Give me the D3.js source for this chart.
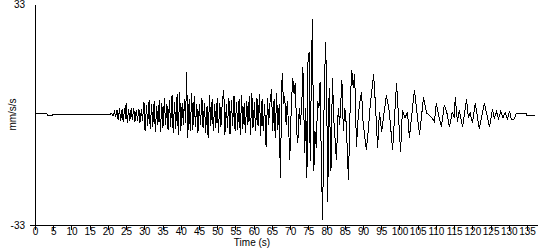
<!DOCTYPE html>
<html>
<head>
<meta charset="utf-8">
<script src="https://cdn.jsdelivr.net/npm/d3@7"></script>
<style>
  body { margin: 0; background: #fff; }
  svg { display: block; }
  text { font-family: Arial, "Liberation Sans", sans-serif; fill: #000; }
</style>
</head>
<body>
<svg id="chart" width="550" height="250"></svg>
<script>
// ground acceleration trace, [time (s), mm/s/s] turning points
const trace = [
  [0,0.15],[3.3,0.15],[3.35,-0.15],[4.9,-0.15],[4.95,0],[20.5,0],
  [21.0,0.3],[21.4,-0.4],[21.8,0.8],[22.1,-0.6],[22.5,1.2],[22.8,-1.5],[23.2,1.8],[23.5,-2.0],[23.9,1.5],[24.2,-2.2],
  [24.6,2.0],[24.8,-1.2],[25.0,3.4],[25.3,-2.5],[25.7,1.6],[26.0,-2.0],[26.4,1.9],[26.7,-1.6],[27.1,2.0],[27.4,-2.3],
  [27.8,1.4],[28.1,-1.8],[28.5,1.7],[28.8,-2.4],[29.2,1.5],[29.5,-1.9],[29.9,3.8],[30.2,-5.0],[30.6,2.9],[30.9,-3.4],
  [31.3,4.2],[31.6,-4.3],[32.0,3.0],[32.3,-3.6],[32.7,4.0],[33.0,-5.2],[33.4,2.5],[33.7,-3.0],[34.1,4.3],[34.4,-5.3],
  [34.8,3.5],[35.1,-4.0],[35.5,4.8],[35.8,-3.2],[36.2,3.0],[36.5,-4.5],[36.9,4.4],[37.2,-3.8],[37.6,5.8],[37.9,-5.4],
  [38.3,3.7],[38.6,-4.2],[39.0,6.0],[39.3,-6.0],[39.7,6.6],[40.0,-4.8],[40.4,3.5],[40.7,-3.0],[41.0,4.6],[41.3,-2.5],
  [41.6,12.7],[41.9,-7.0],[42.3,4.5],[42.6,-5.0],[43.0,6.5],[43.3,-4.6],[43.7,5.5],[44.0,-3.6],[44.4,3.2],[44.7,-5.4],
  [45.1,3.0],[45.4,-3.0],[45.8,5.0],[46.1,-4.0],[46.5,3.5],[46.8,-5.5],[47.2,2.5],[47.5,-7.0],[47.9,5.8],[48.2,-3.5],
  [48.6,4.5],[48.9,-5.0],[49.3,3.0],[49.6,-4.0],[50.0,4.8],[50.3,-5.5],[50.7,3.5],[51.0,-3.8],[51.4,4.0],[51.8,7.3],
  [52.1,-6.0],[52.5,3.0],[52.8,-4.0],[53.2,5.0],[53.5,-5.8],[53.9,4.2],[54.2,-3.5],[54.6,5.5],[54.9,-5.0],[55.3,3.8],
  [55.6,-4.5],[56.0,4.6],[56.3,-6.0],[56.7,5.9],[57.0,-4.2],[57.4,3.5],[57.7,-5.4],[58.1,4.0],[58.4,-3.0],[58.8,5.5],
  [59.1,-6.2],[59.5,6.5],[59.8,-4.0],[60.2,3.6],[60.5,-5.0],[60.9,5.0],[61.2,-3.5],[61.6,6.0],[61.9,-6.5],[62.3,4.5],
  [62.6,-5.0],[63.0,3.0],[63.4,-9.7],[63.8,5.0],[64.1,-3.0],[64.5,4.0],[64.9,7.5],[65.2,-5.0],[65.6,4.5],[65.9,-7.0],
  [66.3,6.5],[66.6,-4.5],[67.0,3.0],[67.3,-19.0],[67.8,12.5],[68.2,3.0],[68.5,5.5],[68.9,-3.0],[69.2,4.0],[69.6,-4.0],
  [69.9,-13.6],[70.3,2.0],[70.7,10.9],[71.1,6.0],[71.4,9.5],[71.8,-5.0],[72.1,-8.5],[72.5,2.0],[72.8,-3.0],[73.2,3.0],
  [73.5,14.2],[74.0,-11.5],[74.3,2.0],[74.6,-19.0],[74.9,15.7],[75.2,18.7],[75.5,-14.0],[75.8,10.0],[76.1,28.5],[76.5,-17.0],
  [76.8,-5.0],[77.2,-10.0],[77.5,4.0],[77.9,2.0],[78.2,9.7],[78.5,-10.0],[78.9,-31.5],[79.3,2.0],[79.7,21.6],[80.0,10.0],
  [80.3,-26.0],[80.7,8.0],[81.2,-17.0],[81.6,10.9],[82.0,-2.0],[82.7,-13.6],[83.2,2.0],[83.6,-3.0],[84.2,10.3],[84.6,-5.0],
  [85.0,2.0],[85.4,-3.0],[86.0,-19.5],[86.5,4.0],[86.9,13.3],[87.3,8.0],[87.7,12.0],[88.2,-9.7],[88.6,-2.0],[89.0,3.0],
  [89.6,6.7],[90.0,-2.0],[90.9,-10.6],[91.4,-5.0],[92.0,3.0],[92.9,12.1],[93.4,3.0],[94.0,-10.0],[94.5,0.7],[95.1,-5.2],
  [96.4,5.8],[97.2,1.0],[98.1,-10.6],[99.2,9.4],[100.3,-11.2],[100.8,1.3],[101.5,-1.0],[102.2,0.7],[102.7,-7.0],[104.1,7.3],
  [105.5,-6.1],[106.6,5.2],[107.4,0.5],[108.2,-0.3],[108.8,-0.8],[109.6,-2.2],[110.1,3.4],[110.6,0.5],[111.5,-3.7],[112.3,2.8],
  [113.0,0.5],[113.7,-3.7],[114.5,0.8],[115.0,-1.0],[115.3,5.2],[115.9,-2.2],[116.4,1.3],[117.3,-3.7],[118.4,4.6],[118.9,-1.0],
  [119.4,0.5],[120.0,-2.5],[120.8,3.4],[121.9,-4.3],[123.3,3.4],[124.7,-3.7],[125.5,1.6],[126.0,-1.0],[126.6,0.8],[127.2,-1.2],
  [127.8,1.0],[128.4,-1.0],[129.0,0.7],[129.6,-1.3],[130.2,1.0],[130.7,-1.6],[131.5,-1.3],[132.1,0.4],[134.8,0.4],[134.85,-0.15],
  [137.3,-0.15]
];

const xTicks = d3.range(0, 136, 5);   // 0 .. 135
const yTicks = [-33, 33];

const svg = d3.select("#chart");

var x = d3.scaleLinear().domain([0, 138]).range([35, 538]);
var y = d3.scaleLinear().domain([-33, 33]).range([225, 4]);

// x axis: ticks + labels
var xAxis = d3.axisBottom(x)
  .tickValues(xTicks)
  .tickSize(5)
  .tickPadding(-2)
  .tickFormat(d3.format("d"));

var gx = svg.append("g")
  .attr("transform", "translate(0," + y(-33) + ")")
  .call(xAxis);
gx.select(".domain").remove();
gx.selectAll("line").attr("stroke", "#000").attr("shape-rendering", "crispEdges");
gx.selectAll("text").attr("font-size", 10).attr("font-family", "Arial, 'Liberation Sans', sans-serif");

// axis lines
svg.append("line")
  .attr("x1", x(0) - 5).attr("x2", x(138))
  .attr("y1", y(-33)).attr("y2", y(-33))
  .attr("stroke", "#000").attr("shape-rendering", "crispEdges");
svg.append("line")
  .attr("x1", x(0)).attr("x2", x(0))
  .attr("y1", y(33) + 1).attr("y2", y(-33))
  .attr("stroke", "#000").attr("shape-rendering", "crispEdges");

// y end labels
svg.selectAll(".ylab")
  .data(yTicks)
  .enter().append("text")
  .attr("class", "ylab")
  .attr("x", 25)
  .attr("y", d => y(d))
  .attr("dy", "0.35em")
  .attr("text-anchor", "end")
  .attr("font-size", 10)
  .text(d => d);

// the trace
var line = d3.line()
  .x(d => x(d[0]))
  .y(d => y(d[1]));

svg.append("path")
  .datum(trace)
  .attr("d", line)
  .attr("fill", "none")
  .attr("stroke", "#000")
  .attr("stroke-width", 1)
  .attr("shape-rendering", "crispEdges");

// axis titles
svg.append("text")
  .attr("x", 252)
  .attr("y", 246)
  .attr("text-anchor", "middle")
  .attr("font-size", 10)
  .text("Time (s)");

svg.append("text")
  .attr("transform", "translate(16," + y(0) + ") rotate(-90)")
  .attr("text-anchor", "middle")
  .attr("font-size", 10)
  .text("mm/s/s");
</script>
</body>
</html>
